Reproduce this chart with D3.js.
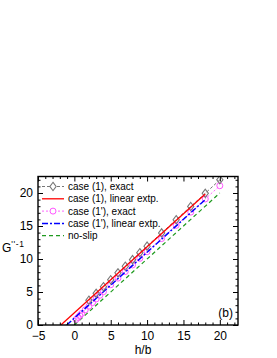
<!DOCTYPE html>
<html>
<head>
<meta charset="utf-8">
<script src="https://cdn.jsdelivr.net/npm/d3@7"></script>
<style>
  body { margin: 0; background: #fff; }
  svg text { font-family: "Liberation Sans", Arial, sans-serif; }
</style>
</head>
<body>
<svg id="chart" width="277" height="358"></svg>
<script>
// data
var hCase1 = [2, 3, 4, 5, 6, 7, 8, 9, 10, 12, 14, 16, 18, 20];
var case1Exact = [3.75, 4.8, 5.8, 6.85, 7.9, 8.9, 9.9, 10.95, 11.95, 13.95, 15.95, 17.95, 19.95, 22.0];
var hCase1p = [0.25, 0.5, 0.75, 1, 1.5, 2, 2.5, 3, 3.5, 4, 5, 6, 7, 8, 9, 10, 12, 14, 16, 18, 20];
var case1pExact = [0.85, 1.15, 1.45, 1.75, 2.3, 2.85, 3.4, 3.95, 4.5, 5.05, 6.1, 7.1, 8.1, 9.1, 10.1, 11.1, 13.1, 15.1, 17.1, 19.1, 21.1];
var case1Lin = [[-1.85, 0], [18, 19.85]];
var case1pLin = [[-1.05, 0], [18, 19.0]];
var noSlip = [[0, 0], [20, 20]];
var xTicks = [-5, 0, 5, 10, 15, 20];
var yTicks = [0, 5, 10, 15, 20];
var legendLabels = ["case (1), exact", "case (1), linear extp.", "case (1'), exact", "case (1'), linear extp.", "no-slip"];

var svg = d3.select("#chart");
var pLeft = 38, pRight = 238, pTop = 176.5, pBottom = 325;

var x = d3.scaleLinear().domain([-5, 22.5]).range([pLeft, pRight]);
var y = d3.scaleLinear().domain([0, 22.5]).range([pBottom, pTop]);

var line = d3.line()
    .x(function(d) { return x(d[0]); })
    .y(function(d) { return y(d[1]); });

var plot = svg.append("g");
plot.append("clipPath").attr("id", "clip")
  .append("rect").attr("x", pLeft).attr("y", pTop).attr("width", pRight - pLeft).attr("height", pBottom - pTop);

var g = plot.append("g").attr("clip-path", "url(#clip)");

// no-slip
g.append("path").datum(noSlip).attr("d", line)
    .attr("fill", "none").attr("stroke", "#1f9a1f").attr("stroke-width", 1.2)
    .attr("stroke-dasharray", "4,3");

// case (1') exact
var pExact = hCase1p.map(function(h, i) { return [h, case1pExact[i]]; });
g.append("path").datum(pExact).attr("d", line)
    .attr("fill", "none").attr("stroke", "#ff66ff").attr("stroke-width", 1)
    .attr("stroke-dasharray", "2,2");
g.selectAll(".pc").data(pExact).enter().append("circle")
    .attr("cx", function(d) { return x(d[0]); })
    .attr("cy", function(d) { return y(d[1]); })
    .attr("r", 3).attr("fill", "none").attr("stroke", "#ff55ff").attr("stroke-width", 1);

// case (1') linear extp.
g.append("path").datum(case1pLin).attr("d", line)
    .attr("fill", "none").attr("stroke", "#0000ff").attr("stroke-width", 1.5)
    .attr("stroke-dasharray", "6,2,2,2");

// case (1) exact
var cExact = hCase1.map(function(h, i) { return [h, case1Exact[i]]; });
g.append("path").datum(cExact).attr("d", line)
    .attr("fill", "none").attr("stroke", "#777").attr("stroke-width", 1)
    .attr("stroke-dasharray", "3,2");
var diamond = d3.symbol().type(d3.symbolDiamond).size(20);
g.selectAll(".dm").data(cExact).enter().append("path")
    .attr("d", diamond)
    .attr("transform", function(d) { return "translate(" + x(d[0]) + "," + y(d[1]) + ") scale(1.3,1)"; })
    .attr("fill", "none").attr("stroke", "#777").attr("stroke-width", 0.9);

// case (1) linear extp.
g.append("path").datum(case1Lin).attr("d", line)
    .attr("fill", "none").attr("stroke", "#ff0000").attr("stroke-width", 1.3);

// axes, ticks inward on all four sides
var xMinor = d3.range(-5, 23, 1).filter(function(v) { return xTicks.indexOf(v) < 0; });
var yMinor = d3.range(0, 23, 1).filter(function(v) { return yTicks.indexOf(v) < 0; });

var axB = d3.axisBottom(x).tickValues(xTicks).tickSizeInner(-5).tickSizeOuter(0).tickPadding(6);
var axT = d3.axisTop(x).tickValues(xTicks).tickSizeInner(-5).tickSizeOuter(0).tickFormat("");
var axL = d3.axisLeft(y).tickValues(yTicks).tickSizeInner(-5).tickSizeOuter(0).tickPadding(5);
var axR = d3.axisRight(y).tickValues(yTicks).tickSizeInner(-5).tickSizeOuter(0).tickFormat("");

function minor(ax, vals) { return ax.tickValues(vals).tickSizeInner(-2.5).tickSizeOuter(0).tickFormat(""); }

svg.append("g").attr("transform", "translate(0," + pBottom + ")").call(minor(d3.axisBottom(x), xMinor));
svg.append("g").attr("transform", "translate(0," + pTop + ")").call(minor(d3.axisTop(x), xMinor));
svg.append("g").attr("transform", "translate(" + pLeft + ",0)").call(minor(d3.axisLeft(y), yMinor));
svg.append("g").attr("transform", "translate(" + pRight + ",0)").call(minor(d3.axisRight(y), yMinor));

svg.append("g").attr("transform", "translate(0," + pBottom + ")").call(axB);
svg.append("g").attr("transform", "translate(0," + pTop + ")").call(axT);
svg.append("g").attr("transform", "translate(" + pLeft + ",0)").call(axL);
svg.append("g").attr("transform", "translate(" + pRight + ",0)").call(axR);

svg.selectAll(".domain").remove();
svg.selectAll(".tick line").attr("stroke", "#000").attr("stroke-width", 1);
svg.selectAll(".tick text").attr("font-size", 12).attr("fill", "#000")
    .attr("font-family", "Liberation Sans, Arial, sans-serif");

svg.append("rect").attr("x", pLeft).attr("y", pTop)
    .attr("width", pRight - pLeft).attr("height", pBottom - pTop)
    .attr("fill", "none").attr("stroke", "#000").attr("stroke-width", 1.4);

// axis titles
svg.append("text").attr("x", 143).attr("y", 354).attr("text-anchor", "middle")
    .attr("font-size", 12).text("h/b");
var yl = svg.append("text").attr("x", 2).attr("y", 252).attr("font-size", 12);
yl.append("tspan").text("G");
yl.append("tspan").attr("font-size", 8.5).attr("dy", -5).attr("letter-spacing", 0.6).text("''-1");

svg.append("text").attr("x", 233).attr("y", 317).attr("text-anchor", "end")
    .attr("font-size", 12).text("(b)");

// legend
var styles = [
  {stroke: "#777", dash: "3,2", w: 1, marker: "diamond"},
  {stroke: "#ff0000", dash: null, w: 1.3},
  {stroke: "#ff66ff", dash: "2,2", w: 1, marker: "circle"},
  {stroke: "#0000ff", dash: "6,2,2,2", w: 1.5},
  {stroke: "#1f9a1f", dash: "4,3", w: 1.2}
];
var leg = svg.append("g");
legendLabels.forEach(function(lbl, i) {
  var ly = 186.5 + i * 12.3;
  var s = styles[i];
  leg.append("line").attr("x1", 42).attr("x2", 64).attr("y1", ly).attr("y2", ly)
      .attr("stroke", s.stroke).attr("stroke-width", s.w)
      .attr("stroke-dasharray", s.dash);
  if (s.marker === "diamond") {
    leg.append("path").attr("d", diamond)
        .attr("transform", "translate(53," + ly + ") scale(1.3,1)")
        .attr("fill", "#fff").attr("stroke", "#777").attr("stroke-width", 0.9);
  } else if (s.marker === "circle") {
    leg.append("circle").attr("cx", 53).attr("cy", ly).attr("r", 3)
        .attr("fill", "#fff").attr("stroke", "#ff55ff");
  }
  leg.append("text").attr("x", 68).attr("y", ly + 3.6).attr("font-size", 10).text(lbl);
});
</script>
</body>
</html>
